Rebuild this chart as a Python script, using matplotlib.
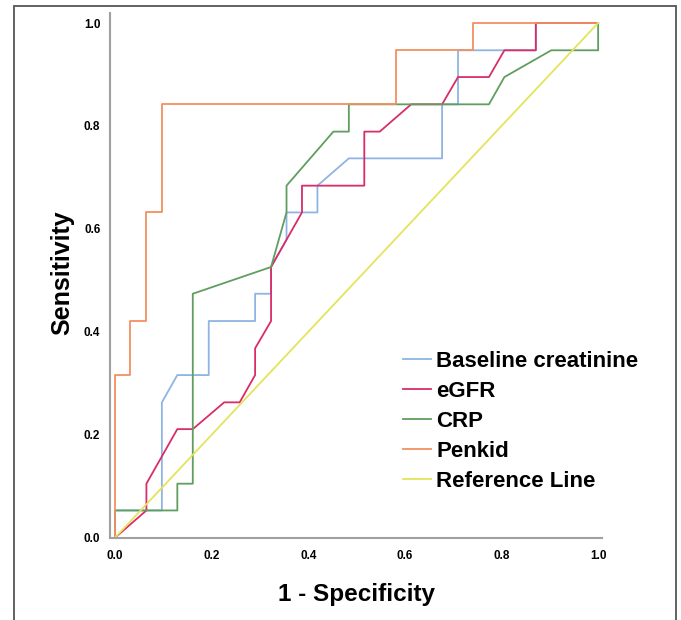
#%% Dependencies
import matplotlib
matplotlib.use("Agg")
import matplotlib.pyplot as plt
from matplotlib.patches import Rectangle

plt.rcParams["font.family"] = ["Liberation Sans", "DejaVu Sans"]

#%% ROC curve data
creat_fpr = [0, 0, 0.097, 0.097, 0.129, 0.194, 0.194, 0.290, 0.290, 0.323, 0.323, 0.355,
             0.355, 0.419, 0.419, 0.484, 0.677, 0.677, 0.710, 0.710, 0.806, 0.871, 0.871, 1.0]
creat_tpr = [0, 0.053, 0.053, 0.263, 0.316, 0.316, 0.421, 0.421, 0.474, 0.474, 0.526, 0.579,
             0.632, 0.632, 0.684, 0.737, 0.737, 0.842, 0.842, 0.947, 0.947, 0.947, 1.0, 1.0]

egfr_fpr = [0, 0.065, 0.065, 0.129, 0.161, 0.226, 0.258, 0.290, 0.290, 0.323, 0.323, 0.387,
            0.387, 0.516, 0.516, 0.548, 0.613, 0.677, 0.710, 0.774, 0.806, 0.871, 0.871, 1.0]
egfr_tpr = [0, 0.053, 0.105, 0.211, 0.211, 0.263, 0.263, 0.316, 0.368, 0.421, 0.526, 0.632,
            0.684, 0.684, 0.789, 0.789, 0.842, 0.842, 0.895, 0.895, 0.947, 0.947, 1.0, 1.0]

crp_fpr = [0, 0, 0.129, 0.129, 0.161, 0.161, 0.323, 0.355, 0.355, 0.452, 0.484, 0.484,
           0.774, 0.806, 0.903, 1.0, 1.0]
crp_tpr = [0, 0.053, 0.053, 0.105, 0.105, 0.474, 0.526, 0.632, 0.684, 0.789, 0.789, 0.842,
           0.842, 0.895, 0.947, 0.947, 1.0]

penkid_fpr = [0, 0, 0.032, 0.032, 0.065, 0.065, 0.097, 0.097, 0.581, 0.581, 0.742, 0.742, 1.0]
penkid_tpr = [0, 0.316, 0.316, 0.421, 0.421, 0.632, 0.632, 0.842, 0.842, 0.947, 0.947, 1.0, 1.0]

ref_x = [0, 1]
ref_y = [0, 1]

ticks = [0.0, 0.2, 0.4, 0.6, 0.8, 1.0]

#%% Plotting
fig = plt.figure(figsize=(6.81, 6.20), dpi=100)
ax = fig.add_axes([0.1615, 0.1327, 0.7225, 0.8468])

lw = 1.3
ax.plot(creat_fpr, creat_tpr, color="#8fb4e3", lw=lw, label="Baseline creatinine")
ax.plot(egfr_fpr, egfr_tpr, color="#d92d68", lw=lw, label="eGFR")
ax.plot(crp_fpr, crp_tpr, color="#5f9e5f", lw=lw, label="CRP")
ax.plot(penkid_fpr, penkid_tpr, color="#f29060", lw=lw, label="Penkid")
ax.plot(ref_x, ref_y, color="#e4e45c", lw=lw, label="Reference Line")

ax.set_xlim(-0.0104, 1.008)
ax.set_ylim(0, 1.02)
ax.set_xticks(ticks)
ax.set_yticks(ticks)
ax.set_xticklabels([f"{t:.1f}" for t in ticks], fontweight="bold", fontsize=8.5)
ax.set_yticklabels([f"{t:.1f}" for t in ticks], fontweight="bold", fontsize=8.5)
ax.tick_params(axis="x", length=0, pad=9)
ax.tick_params(axis="y", length=0, pad=7)

for side in ["top", "right"]:
    ax.spines[side].set_visible(False)
for side in ["left", "bottom"]:
    ax.spines[side].set_color("#a0a0a0")
    ax.spines[side].set_linewidth(1.5)

fig.text(357 / 681, 1 - 594 / 620, "1 - Specificity", ha="center", va="center",
         fontsize=17.5, fontweight="bold")
fig.text(62 / 681, 1 - 273 / 620, "Sensitivity", ha="center", va="center",
         rotation=90, fontsize=18, fontweight="bold")

ax.legend(loc="upper left", bbox_to_anchor=(403 / 681, 1 - 351 / 620),
          bbox_transform=fig.transFigure, frameon=False, borderpad=0,
          borderaxespad=0, handlelength=1.25, handletextpad=0.25,
          labelspacing=0.4, prop={"weight": "bold", "size": 16})

# outer frame around the whole chart
fig.patches.append(Rectangle((14 / 681, -0.05), (676 - 14) / 681, 1 - 6 / 620 + 0.05,
                             transform=fig.transFigure, fill=False,
                             edgecolor="#555555", linewidth=1.3))

fig.savefig("out.png", dpi=100)
